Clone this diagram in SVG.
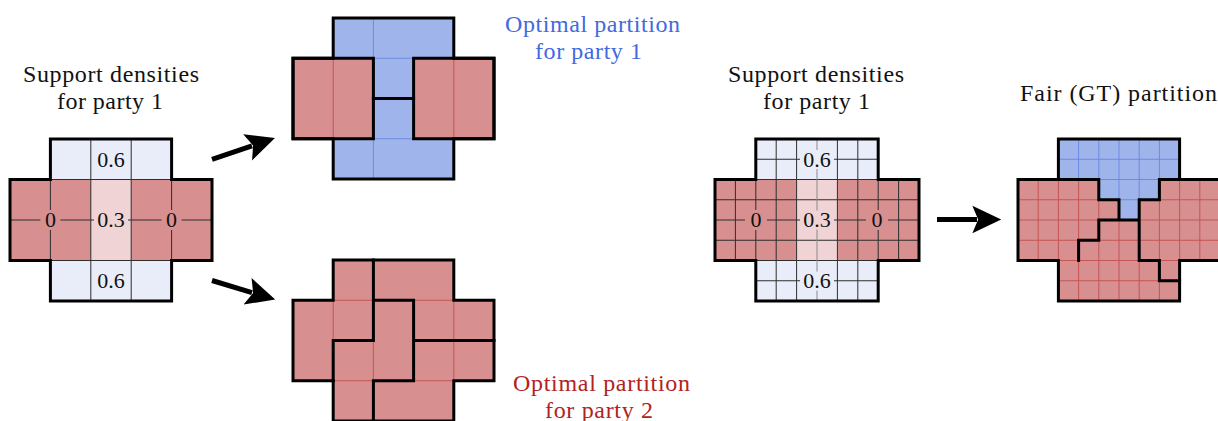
<svg xmlns="http://www.w3.org/2000/svg" width="1218" height="421" viewBox="0 0 1218 421">
<style>
.title{font-family:'Liberation Serif','DejaVu Serif','Times New Roman',serif;font-size:24px;fill:#111;text-anchor:middle}
.num{font-family:'Liberation Serif','DejaVu Serif','Times New Roman',serif;font-size:22px;fill:#111;text-anchor:middle}
.thick{fill:none;stroke:#000;stroke-width:3;stroke-linejoin:miter;stroke-linecap:square}
.grid{fill:none;stroke:#2e2e2e;stroke-width:1}
.gridc{fill:none;stroke:#8a8a8a;stroke-width:1}
.rl{fill:none;stroke:#c55456;stroke-width:1}
.bl{fill:none;stroke:#6a8ae4;stroke-width:1}
.red{fill:#d78f8f}
.blue{fill:#a0b4ec}
.lblue{fill:#e9edf9}
.pink{fill:#efd3d5}
.arrow{stroke:#000;stroke-width:5;fill:none;marker-end:url(#head)}
</style>
<defs>
<marker id="head" markerUnits="userSpaceOnUse" markerWidth="30" markerHeight="30" refX="4" refY="0" viewBox="0 -13 26 26" orient="auto">
<path d="M0,-12 L25,0 L0,12 L5,0 Z" fill="#000"/>
</marker>
<clipPath id="clipR1"><polygon points="755.8,139 878.2,139 878.2,179.5 919,179.5 919,260.5 878.2,260.5 878.2,301 755.8,301 755.8,260.5 715,260.5 715,179.5 755.8,179.5"/></clipPath>
<clipPath id="clipR2"><polygon points="1058.4,139 1179.6,139 1179.6,179.5 1220,179.5 1220,260.5 1179.6,260.5 1179.6,301 1058.4,301 1058.4,260.5 1018,260.5 1018,179.5 1058.4,179.5"/></clipPath>
<clipPath id="clipR2b"><polygon points="1058.4,139 1179.6,139 1179.6,179.5 1159.4,179.5 1159.4,199.75 1139.2,199.75 1139.2,220 1119,220 1119,199.75 1098.8,199.75 1098.8,179.5 1058.4,179.5"/></clipPath>
</defs>

<!-- Left: support densities -->
<g id="densities-coarse">
<text class="title" x="111" y="81.5" textLength="176">Support densities</text>
<text class="title" x="110" y="108.5" textLength="106">for party 1</text>
<rect class="lblue" x="50.4" y="139" width="121.2" height="40.5"/>
<rect class="lblue" x="50.4" y="260.5" width="121.2" height="40.5"/>
<rect class="red" x="10" y="179.5" width="202" height="81"/>
<rect class="pink" x="90.8" y="179.5" width="40.4" height="81"/>
<path class="grid" d="M50.4,179.5V260.5M90.8,139V301M131.2,139V301M171.6,179.5V260.5M10,220H212M50.4,179.5H171.6M50.4,260.5H171.6"/>
<rect class="red" x="40.4" y="210" width="20" height="20"/>
<rect class="red" x="161.6" y="210" width="20" height="20"/>
<rect class="pink" x="94" y="210.5" width="34" height="19"/>
<text class="num" x="111" y="166.5">0.6</text>
<text class="num" x="50.4" y="227.3">0</text>
<text class="num" x="111" y="227.3">0.3</text>
<text class="num" x="171.6" y="227.3">0</text>
<text class="num" x="111" y="288">0.6</text>
<polygon class="thick" points="50.4,139 171.6,139 171.6,179.5 212,179.5 212,260.5 171.6,260.5 171.6,301 50.4,301 50.4,260.5 10,260.5 10,179.5 50.4,179.5"/>
</g>

<!-- Top middle: optimal partition for party 1 -->
<g id="optimal-party1">
<polygon class="blue" points="333.2,18 453.8,18 453.8,58.25 494,58.25 494,138.75 453.8,138.75 453.8,179 333.2,179 333.2,138.75 293,138.75 293,58.25 333.2,58.25"/>
<path class="bl" d="M373.4,18V58.25H413.6M373.4,179V138.75H413.6"/>
<rect class="red" x="293" y="58.25" width="80.4" height="80.5"/>
<rect class="red" x="413.6" y="58.25" width="80.4" height="80.5"/>
<path class="rl" d="M333.2,58.25V138.75M453.8,58.25V138.75"/>
<polygon class="thick" points="333.2,18 453.8,18 453.8,58.25 494,58.25 494,138.75 453.8,138.75 453.8,179 333.2,179 333.2,138.75 293,138.75 293,58.25 333.2,58.25"/>
<rect class="thick" x="293" y="58.25" width="80.4" height="80.5"/>
<rect class="thick" x="413.6" y="58.25" width="80.4" height="80.5"/>
<path class="thick" d="M373.4,98.5H413.6"/>
<text class="title" x="592.5" y="31.5" textLength="175" style="fill:#4169e1">Optimal partition</text>
<text class="title" x="588.5" y="58.5" textLength="107" style="fill:#4169e1">for party 1</text>
</g>

<!-- Bottom middle: optimal partition for party 2 -->
<g id="optimal-party2">
<polygon class="red" points="333.2,260 453.8,260 453.8,300.25 494,300.25 494,380.75 453.8,380.75 453.8,421 333.2,421 333.2,380.75 293,380.75 293,300.25 333.2,300.25"/>
<path class="rl" d="M333.2,300.25H373.4M413.6,300.25H453.8M333.2,300.25V340.5M373.4,340.5V380.75M453.8,300.25V380.75M333.2,380.75H373.4M413.6,380.75H453.8"/>
<polygon class="thick" points="333.2,260 453.8,260 453.8,300.25 494,300.25 494,380.75 453.8,380.75 453.8,421 333.2,421 333.2,380.75 293,380.75 293,300.25 333.2,300.25"/>
<path class="thick" d="M373.4,260V340.5H333.2V380.75M373.4,300.25H413.6V380.75H373.4V421M413.6,340.5H494"/>
<text class="title" x="601.5" y="390.5" textLength="177" style="fill:#b22222">Optimal partition</text>
<text class="title" x="599" y="417.5" textLength="108" style="fill:#b22222">for party 2</text>
</g>

<!-- Right middle: fine support densities -->
<g id="densities-fine">
<text class="title" x="816" y="81.5" textLength="176">Support densities</text>
<text class="title" x="816.5" y="108.5" textLength="107">for party 1</text>
<rect class="lblue" x="755.8" y="139" width="122.4" height="40.5"/>
<rect class="lblue" x="755.8" y="260.5" width="122.4" height="40.5"/>
<rect class="red" x="715" y="179.5" width="204" height="81"/>
<rect class="pink" x="796.6" y="179.5" width="40.8" height="81"/>
<g clip-path="url(#clipR1)">
<path class="grid" d="M735.4,139V301M755.8,139V301M776.2,139V301M796.6,139V301M837.4,139V301M857.8,139V301M878.2,139V301M898.6,139V301M715,159.25H919M715,179.5H919M715,199.75H919M715,220H919M715,240.25H919M715,260.5H919M715,280.75H919"/>
<path class="gridc" d="M817,139V301"/>
</g>
<rect class="lblue" x="800" y="150" width="34" height="19"/>
<rect class="pink" x="800" y="210.5" width="34" height="19"/>
<rect class="red" x="745" y="210" width="22" height="20"/>
<rect class="red" x="866" y="210" width="22" height="20"/>
<rect class="lblue" x="800" y="271.5" width="34" height="19"/>
<text class="num" x="817" y="166.8">0.6</text>
<text class="num" x="817" y="227.3">0.3</text>
<text class="num" x="756" y="227.3">0</text>
<text class="num" x="877" y="227.3">0</text>
<text class="num" x="817" y="288">0.6</text>
<polygon class="thick" points="755.8,139 878.2,139 878.2,179.5 919,179.5 919,260.5 878.2,260.5 878.2,301 755.8,301 755.8,260.5 715,260.5 715,179.5 755.8,179.5"/>
</g>

<!-- Right: fair (GT) partition -->
<g id="fair-partition">
<text class="title" x="1118.5" y="101" textLength="197">Fair (GT) partition</text>
<polygon class="red" points="1058.4,139 1179.6,139 1179.6,179.5 1220,179.5 1220,260.5 1179.6,260.5 1179.6,301 1058.4,301 1058.4,260.5 1018,260.5 1018,179.5 1058.4,179.5"/>
<g clip-path="url(#clipR2)">
<path class="rl" d="M1038.2,139V301M1058.4,139V301M1078.6,139V301M1098.8,139V301M1119,139V301M1139.2,139V301M1159.4,139V301M1179.6,139V301M1199.8,139V301M1018,159.25H1220M1018,179.5H1220M1018,199.75H1220M1018,220H1220M1018,240.25H1220M1018,260.5H1220M1018,280.75H1220"/>
</g>
<polygon class="blue" points="1058.4,139 1179.6,139 1179.6,179.5 1159.4,179.5 1159.4,199.75 1139.2,199.75 1139.2,220 1119,220 1119,199.75 1098.8,199.75 1098.8,179.5 1058.4,179.5"/>
<g clip-path="url(#clipR2b)">
<path class="bl" d="M1078.6,139V301M1098.8,139V301M1119,139V301M1139.2,139V301M1159.4,139V301M1018,159.25H1220M1018,179.5H1220M1018,199.75H1220"/>
</g>
<polygon class="thick" points="1058.4,139 1179.6,139 1179.6,179.5 1220,179.5 1220,260.5 1179.6,260.5 1179.6,301 1058.4,301 1058.4,260.5 1018,260.5 1018,179.5 1058.4,179.5"/>
<path class="thick" d="M1058.4,179.5H1098.8V199.75H1119V220H1139.2V199.75H1159.4V179.5H1179.6M1078.6,260.5V240.25H1098.8V220H1139.2M1139.2,199.75V260.5H1159.4V280.75H1179.6"/>
</g>

<!-- Connectors -->
<g id="connectors">
<line class="arrow" x1="212" y1="159.3" x2="252" y2="145.8"/>
<line class="arrow" x1="212" y1="280.5" x2="252" y2="292.6"/>
<line class="arrow" x1="937" y1="219.5" x2="977" y2="219.5"/>
</g>
</svg>
